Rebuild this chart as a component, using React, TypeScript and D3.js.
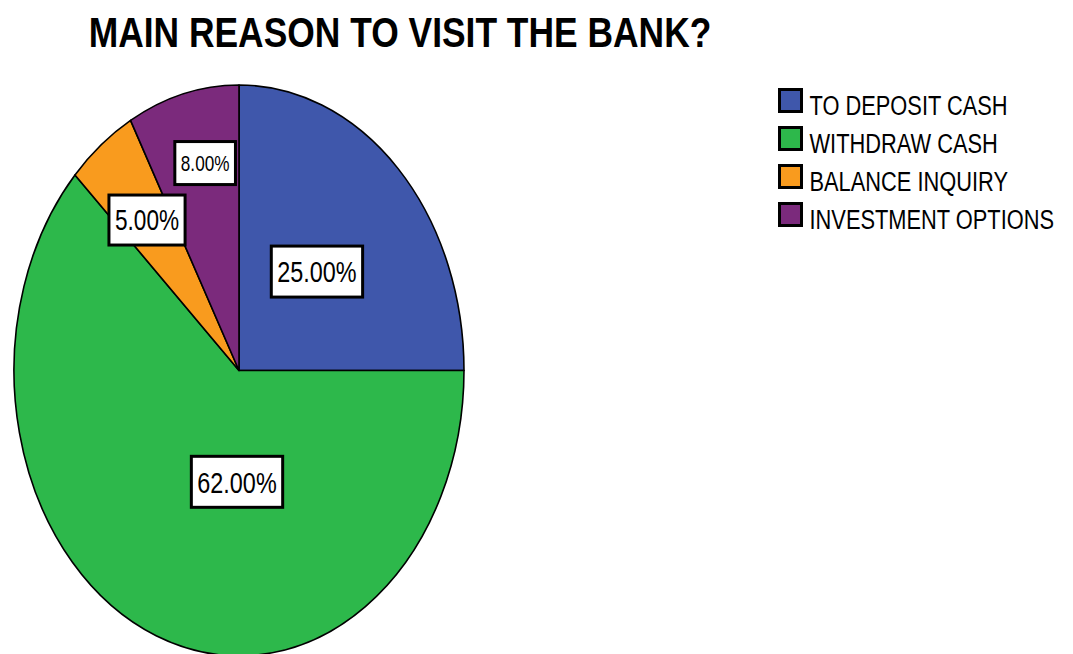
import React, { useEffect, useRef } from "react";
import * as d3 from "d3";

const title = "MAIN REASON TO VISIT THE BANK?";
const categories = ["TO DEPOSIT CASH", "WITHDRAW CASH", "BALANCE INQUIRY", "INVESTMENT OPTIONS"];
const percentages = [25, 62, 5, 8];
const colors = ["#3F57AB", "#2DB84B", "#F99B1E", "#7B2A7C"];
// label placement in ellipse-normalised polar coords (radius fraction, optional angle in degrees)
const labelRadius = [0.49, 0.39, 0.667, 0.742];
const labelAngleDeg: (number | null)[] = [null, 181.3, null, 348.3];
const labelFont = [30, 30, 29, 22];

const W = 1073;
const H = 654;
const SX = 0.78; // condensed text

export default function App() {
  const ref = useRef<SVGSVGElement | null>(null);

  useEffect(() => {
    const svg = d3.select(ref.current);
    svg.selectAll("*").remove();

    const cx = 239, cy = 370.5, rx = 225, ry = 285.5;
    const font = "'Liberation Sans', Arial, sans-serif";

    // title
    svg.append("text")
      .attr("transform", `translate(400,47) scale(0.843,1)`)
      .attr("text-anchor", "middle")
      .attr("font-family", font)
      .attr("font-weight", "bold")
      .attr("font-size", 42)
      .attr("fill", "#000")
      .text(title);

    const pie = d3.pie<number>().sort(null).value((d) => d)(percentages);
    const arc = d3.arc<d3.PieArcDatum<number>>().innerRadius(0).outerRadius(1);

    const g = svg.append("g").attr("transform", `translate(${cx},${cy}) scale(${rx},${ry})`);
    g.selectAll("path")
      .data(pie)
      .enter()
      .append("path")
      .attr("d", (d) => arc(d) as string)
      .attr("fill", (_, i) => colors[i])
      .attr("stroke", "#000")
      .attr("stroke-width", 1.6)
      .attr("stroke-linejoin", "round")
      .attr("vector-effect", "non-scaling-stroke");

    // labels
    pie.forEach((d, i) => {
      const a = labelAngleDeg[i] != null ? (labelAngleDeg[i] as number) * Math.PI / 180 : (d.startAngle + d.endAngle) / 2;
      const r = labelRadius[i];
      const x = cx + Math.sin(a) * r * rx;
      const y = cy - Math.cos(a) * r * ry;
      const fs = labelFont[i];
      const lg = svg.append("g");
      const rect = lg.append("rect");
      const t = lg.append("text")
        .attr("transform", `translate(${x},${y + fs * 0.358}) scale(${SX},1)`)
        .attr("text-anchor", "middle")
        .attr("font-family", font)
        .attr("font-size", fs)
        .attr("fill", "#000")
        .text(d3.format(".2f")(percentages[i]) + "%");
      const bw = (t.node() as SVGTextElement).getBBox().width * SX + 12;
      const bh = fs + 21;
      rect.attr("x", x - bw / 2).attr("y", y - bh / 2)
        .attr("width", bw).attr("height", bh)
        .attr("fill", "#fff").attr("stroke", "#000").attr("stroke-width", 3);
    });

    // legend
    const legend = svg.append("g").attr("transform", "translate(779.5,89.5)");
    categories.forEach((c, i) => {
      const row = legend.append("g").attr("transform", `translate(0,${i * 38})`);
      row.append("rect")
        .attr("width", 22).attr("height", 22)
        .attr("fill", colors[i]).attr("stroke", "#000").attr("stroke-width", 3);
      row.append("text")
        .attr("transform", `translate(30,25.5) scale(${SX},1)`)
        .attr("font-family", font)
        .attr("font-size", 28)
        .attr("fill", "#000")
        .text(c);
    });
  }, []);

  return (
    <svg
      ref={ref}
      width={W}
      height={H}
      style={{ position: "absolute", left: 0, top: 0, background: "#fff" }}
    />
  );
}
